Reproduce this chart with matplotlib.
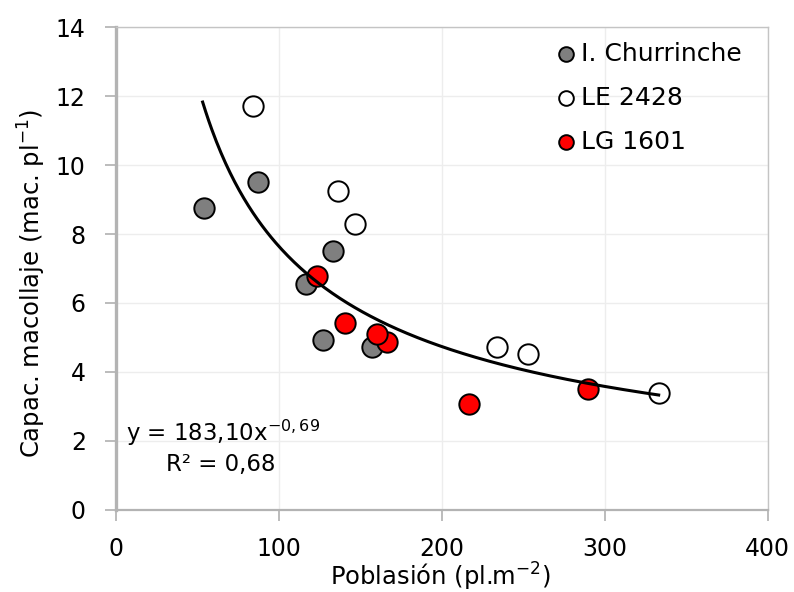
import matplotlib
matplotlib.use("Agg")
import matplotlib.pyplot as plt
import numpy as np

plt.rcParams["mathtext.default"] = "regular"
plt.rcParams["font.family"] = "DejaVu Sans"

# Tillering capacity vs plant population, three cultivars
churr_x = [53.6, 86.7, 133.0, 116.4, 126.6, 156.7]
churr_y = [8.75, 9.51, 7.51, 6.54, 4.92, 4.72]

le_x = [83.7, 136.2, 146.5, 233.5, 252.7, 333.3]
le_y = [11.70, 9.24, 8.28, 4.73, 4.53, 3.39]

lg_x = [166.0, 160.0, 140.3, 123.0, 216.6, 289.9]
lg_y = [4.88, 5.09, 5.43, 6.77, 3.06, 3.49]

# power fit y = a * x^b
fit_a = 183.10
fit_b = -0.69
fit_r2 = 0.68
fit_xmin, fit_xmax = 53.0, 333.0

series = [
    ("I. Churrinche", churr_x, churr_y, "#7f7f7f"),
    ("LE 2428", le_x, le_y, "white"),
    ("LG 1601", lg_x, lg_y, "#ff0000"),
]

fig = plt.figure(figsize=(7.94, 5.92), dpi=100)
ax = fig.add_axes([0.1465, 0.139, 0.8205, 0.815])

for i, (name, xs, ys, col) in enumerate(series):
    ax.scatter(xs, ys, s=215, facecolor=col, edgecolor="black",
               linewidth=1.4, zorder=3 + i, label=name)

xf = np.linspace(fit_xmin, fit_xmax, 300)
ax.plot(xf, fit_a * xf ** fit_b, color="black", lw=2.2, zorder=10)

ax.set_xlim(0, 400)
ax.set_ylim(0, 14)
ax.set_xticks([0, 100, 200, 300, 400])
ax.set_yticks(np.arange(0, 15, 2))
ax.grid(True, color="#ededed", lw=1.0, zorder=0)
ax.set_axisbelow(True)

ax.tick_params(axis="both", direction="out", length=8, width=1.2,
               color="#b0b0b0", labelsize=17, pad=14)
ax.tick_params(axis="x", pad=12)

ax.spines["left"].set_color("#b3b3b3")
ax.spines["left"].set_linewidth(2.4)
ax.spines["bottom"].set_color("#b3b3b3")
ax.spines["bottom"].set_linewidth(1.6)
for s in ("top", "right"):
    ax.spines[s].set_color("#c4c4c4")
    ax.spines[s].set_linewidth(1.0)

ax.set_xlabel("Poblasión (pl.m$^{-2}$)", fontsize=17.5)
ax.xaxis.set_label_coords(0.497, -0.105)
ax.set_ylabel("Capac. macollaje (mac. pl$^{-1}$)", fontsize=17.5)
ax.yaxis.set_label_coords(-0.105, 0.47)

ax.text(6, 2.22, "y = 183,10x$^{-0,69}$", fontsize=16.5,
        ha="left", va="center")
ax.text(30.5, 1.32, f"R² = {fit_r2:.2f}".replace(".", ","), fontsize=16.5,
        ha="left", va="center")

leg = ax.legend(loc="upper right", frameon=False, fontsize=18,
                markerscale=0.72, handletextpad=0.1, labelspacing=0.8,
                borderaxespad=0.0, handlelength=1.0,
                bbox_to_anchor=(0.975, 0.99))

fig.savefig("out.png", dpi=100, facecolor="white")
